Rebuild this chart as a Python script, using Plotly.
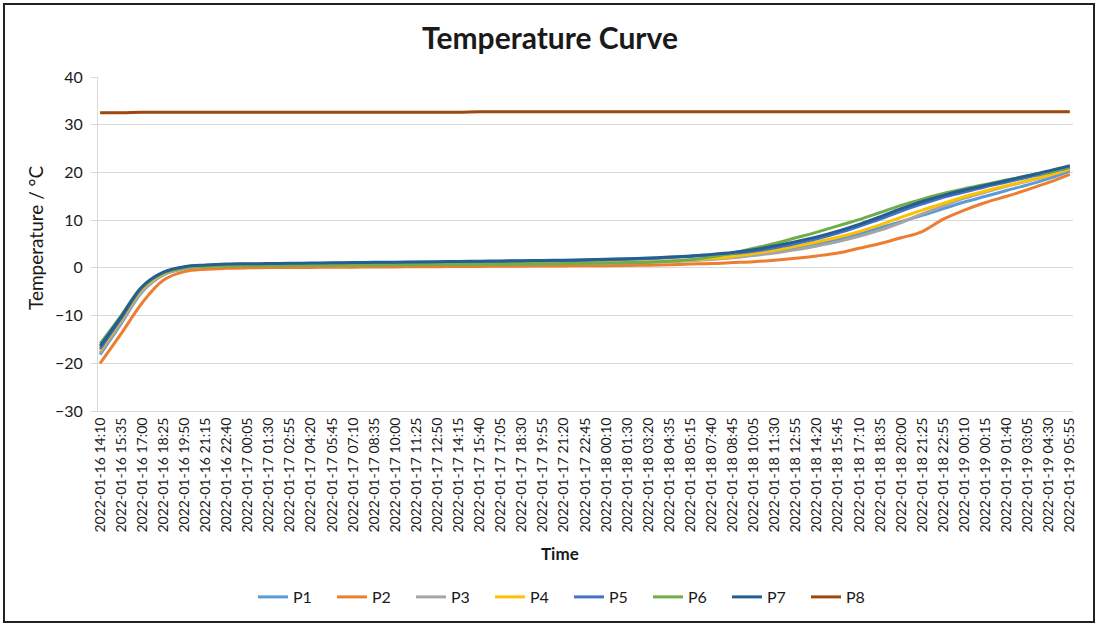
import plotly.graph_objects as go

times = [
    "2022-01-16 14:10", "2022-01-16 15:35", "2022-01-16 17:00", "2022-01-16 18:25",
    "2022-01-16 19:50", "2022-01-16 21:15", "2022-01-16 22:40",
    "2022-01-17 00:05", "2022-01-17 01:30", "2022-01-17 02:55", "2022-01-17 04:20",
    "2022-01-17 05:45", "2022-01-17 07:10", "2022-01-17 08:35", "2022-01-17 10:00",
    "2022-01-17 11:25", "2022-01-17 12:50", "2022-01-17 14:15", "2022-01-17 15:40",
    "2022-01-17 17:05", "2022-01-17 18:30", "2022-01-17 19:55", "2022-01-17 21:20",
    "2022-01-17 22:45",
    "2022-01-18 00:10", "2022-01-18 01:30", "2022-01-18 03:20", "2022-01-18 04:35",
    "2022-01-18 05:15", "2022-01-18 07:40", "2022-01-18 08:45", "2022-01-18 10:05",
    "2022-01-18 11:30", "2022-01-18 12:55", "2022-01-18 14:20", "2022-01-18 15:45",
    "2022-01-18 17:10", "2022-01-18 18:35", "2022-01-18 20:00", "2022-01-18 21:25",
    "2022-01-18 22:55",
    "2022-01-19 00:10", "2022-01-19 00:15", "2022-01-19 01:40", "2022-01-19 03:05",
    "2022-01-19 04:30", "2022-01-19 05:55",
]

p1 = [-18.2, -11.7, -5.0, -1.5, -0.15, 0.3, 0.5, 0.55, 0.6, 0.6, 0.65, 0.65, 0.7, 0.7, 0.75, 0.75,
      0.8, 0.8, 0.85, 0.85, 0.9, 0.95, 1.0, 1.05, 1.1, 1.15, 1.25, 1.4, 1.6, 1.9, 2.3, 2.8, 3.4,
      4.2, 5.0, 6.0, 7.1, 8.4, 9.7, 11.0, 12.4, 13.8, 15.0, 16.2, 17.4, 18.7, 20.3]
p2 = [-20.0, -13.8, -7.3, -2.6, -0.8, -0.3, -0.1, 0.0, 0.05, 0.1, 0.1, 0.15, 0.15, 0.2, 0.2, 0.25,
      0.25, 0.3, 0.3, 0.35, 0.35, 0.4, 0.4, 0.45, 0.45, 0.5, 0.55, 0.65, 0.8, 0.9, 1.1, 1.3, 1.6,
      2.0, 2.5, 3.1, 4.1, 5.1, 6.3, 7.6, 10.2, 12.1, 13.7, 15.0, 16.4, 17.9, 19.6]
p3 = [-17.8, -11.4, -4.8, -1.4, -0.1, 0.3, 0.45, 0.5, 0.5, 0.55, 0.55, 0.6, 0.6, 0.65, 0.65, 0.7,
      0.7, 0.75, 0.75, 0.8, 0.8, 0.85, 0.9, 0.95, 1.0, 1.05, 1.15, 1.3, 1.5, 1.75, 2.1, 2.6, 3.1,
      3.8, 4.6, 5.5, 6.6, 7.9, 9.5, 11.3, 13.0, 14.6, 15.9, 17.1, 18.2, 19.3, 20.6]
p4 = [-17.3, -10.9, -4.4, -1.2, 0.0, 0.35, 0.5, 0.55, 0.6, 0.6, 0.65, 0.65, 0.7, 0.7, 0.75, 0.75,
      0.8, 0.8, 0.85, 0.85, 0.9, 0.95, 1.0, 1.05, 1.1, 1.2, 1.3, 1.45, 1.65, 1.95, 2.4, 3.0, 3.7,
      4.5, 5.4, 6.4, 7.6, 9.0, 10.6, 12.1, 13.5, 14.9, 16.1, 17.2, 18.3, 19.4, 20.8]
p5 = [-17.0, -10.6, -4.1, -1.0, 0.15, 0.5, 0.7, 0.75, 0.8, 0.85, 0.9, 0.95, 1.0, 1.05, 1.1, 1.15,
      1.2, 1.25, 1.3, 1.35, 1.4, 1.45, 1.5, 1.6, 1.7, 1.8, 1.95, 2.15, 2.4, 2.65, 3.0, 3.5, 4.2,
      5.1, 6.1, 7.3, 8.7, 10.2, 11.9, 13.4, 14.8, 15.9, 17.0, 18.0, 19.0, 20.0, 21.1]
p6 = [-15.9, -10.0, -3.9, -1.1, 0.0, 0.3, 0.4, 0.45, 0.5, 0.5, 0.55, 0.55, 0.6, 0.6, 0.65, 0.65,
      0.7, 0.7, 0.75, 0.75, 0.8, 0.85, 0.9, 0.95, 1.0, 1.1, 1.2, 1.4, 1.7, 2.3, 3.1, 4.1, 5.1,
      6.3, 7.5, 8.8, 10.1, 11.6, 13.1, 14.4, 15.6, 16.6, 17.5, 18.4, 19.3, 20.1, 21.1]
p7 = [-16.4, -10.2, -3.9, -0.9, 0.25, 0.6, 0.8, 0.85, 0.9, 0.95, 1.0, 1.05, 1.1, 1.15, 1.2, 1.25,
      1.3, 1.35, 1.4, 1.45, 1.5, 1.55, 1.6, 1.7, 1.8, 1.9, 2.05, 2.25, 2.5, 2.8, 3.2, 3.8, 4.6,
      5.5, 6.5, 7.7, 9.1, 10.7, 12.4, 13.9, 15.2, 16.3, 17.3, 18.3, 19.3, 20.3, 21.4]
p8 = [32.5, 32.5, 32.6, 32.6, 32.6, 32.6, 32.6, 32.6, 32.6, 32.6, 32.6, 32.6, 32.6, 32.6, 32.6, 32.6,
      32.6, 32.6, 32.7, 32.7, 32.7, 32.7, 32.7, 32.7, 32.7, 32.7, 32.7, 32.7, 32.7, 32.7, 32.7, 32.7,
      32.7, 32.7, 32.7, 32.7, 32.7, 32.7, 32.7, 32.7, 32.7, 32.7, 32.7, 32.7, 32.7, 32.7, 32.7]

series_names = ["P1", "P2", "P3", "P4", "P5", "P6", "P7", "P8"]
series_values = [p1, p2, p3, p4, p5, p6, p7, p8]
series_colors = ["#5B9BD5", "#ED7D31", "#A5A5A5", "#FFC000", "#4472C4", "#70AD47", "#255E91", "#9E480E"]

FONT = "Lato, 'Open Sans', sans-serif"
TXT = "#1a1a1a"

fig = go.Figure()
for name, vals, col in zip(series_names, series_values, series_colors):
    fig.add_trace(go.Scatter(
        x=times, y=vals, name=name, mode="lines",
        line=dict(color=col, width=3, shape="spline", smoothing=1),
    ))

W, H = 1100, 627
L, R, T, B = 98, 27, 77, 216
pw, ph = W - L - R, H - T - B

def px_x(px):
    return (px - L) / pw

def px_y(py):
    return (H - B - py) / ph

fig.update_layout(
    width=W, height=H,
    margin=dict(l=L, r=R, t=T, b=B),
    paper_bgcolor="white", plot_bgcolor="white",
    font=dict(family=FONT, color=TXT),
    title=dict(text="Temperature Curve", x=0.5, xref="container", xanchor="center",
               y=1 - 38 / H, yref="container", yanchor="middle",
               font=dict(size=30, family=FONT, color=TXT, weight="bold")),
    showlegend=True,
    legend=dict(orientation="h", x=253 / W, xref="container", xanchor="left",
                y=1 - 597 / H, yref="container", yanchor="middle",
                font=dict(size=16, family=FONT, color=TXT),
                entrywidth=34, entrywidthmode="pixels",
                bgcolor="rgba(0,0,0,0)", traceorder="normal"),
)

fig.update_xaxes(
    type="category", categoryorder="array", categoryarray=times,
    tickmode="array", tickvals=times, ticktext=times,
    range=[-0.1, len(times) - 1 + 0.15],
    tickangle=-90, tickfont=dict(size=14, family=FONT, color=TXT),
    showgrid=False, showline=True, linecolor="#D9D9D9", linewidth=1,
    ticks="", zeroline=False,
)
fig.update_yaxes(
    range=[-30, 40], dtick=10, tick0=0,
    showgrid=True, gridcolor="#D9D9D9", gridwidth=1,
    showline=True, linecolor="#D9D9D9", linewidth=1,
    ticks="outside", ticklen=6, tickcolor="#D9D9D9",
    tickfont=dict(size=16, family=FONT, color=TXT),
    ticklabelstandoff=5, zeroline=False,
)

fig.add_annotation(text="Temperature / °C", textangle=-90, showarrow=False,
                   xref="paper", yref="paper", x=px_x(35), y=px_y(238),
                   xanchor="center", yanchor="middle",
                   font=dict(size=19, family=FONT, color=TXT))
fig.add_annotation(text="<b>Time</b>", showarrow=False,
                   xref="paper", yref="paper", x=px_x(560), y=px_y(553),
                   xanchor="center", yanchor="middle",
                   font=dict(size=17, family=FONT, color=TXT))

fig.add_shape(type="rect", xref="paper", yref="paper",
              x0=px_x(4), x1=px_x(1094), y0=px_y(4), y1=px_y(622),
              line=dict(color="#222222", width=2), fillcolor="rgba(0,0,0,0)", layer="above")

fig.write_html("out.html")
